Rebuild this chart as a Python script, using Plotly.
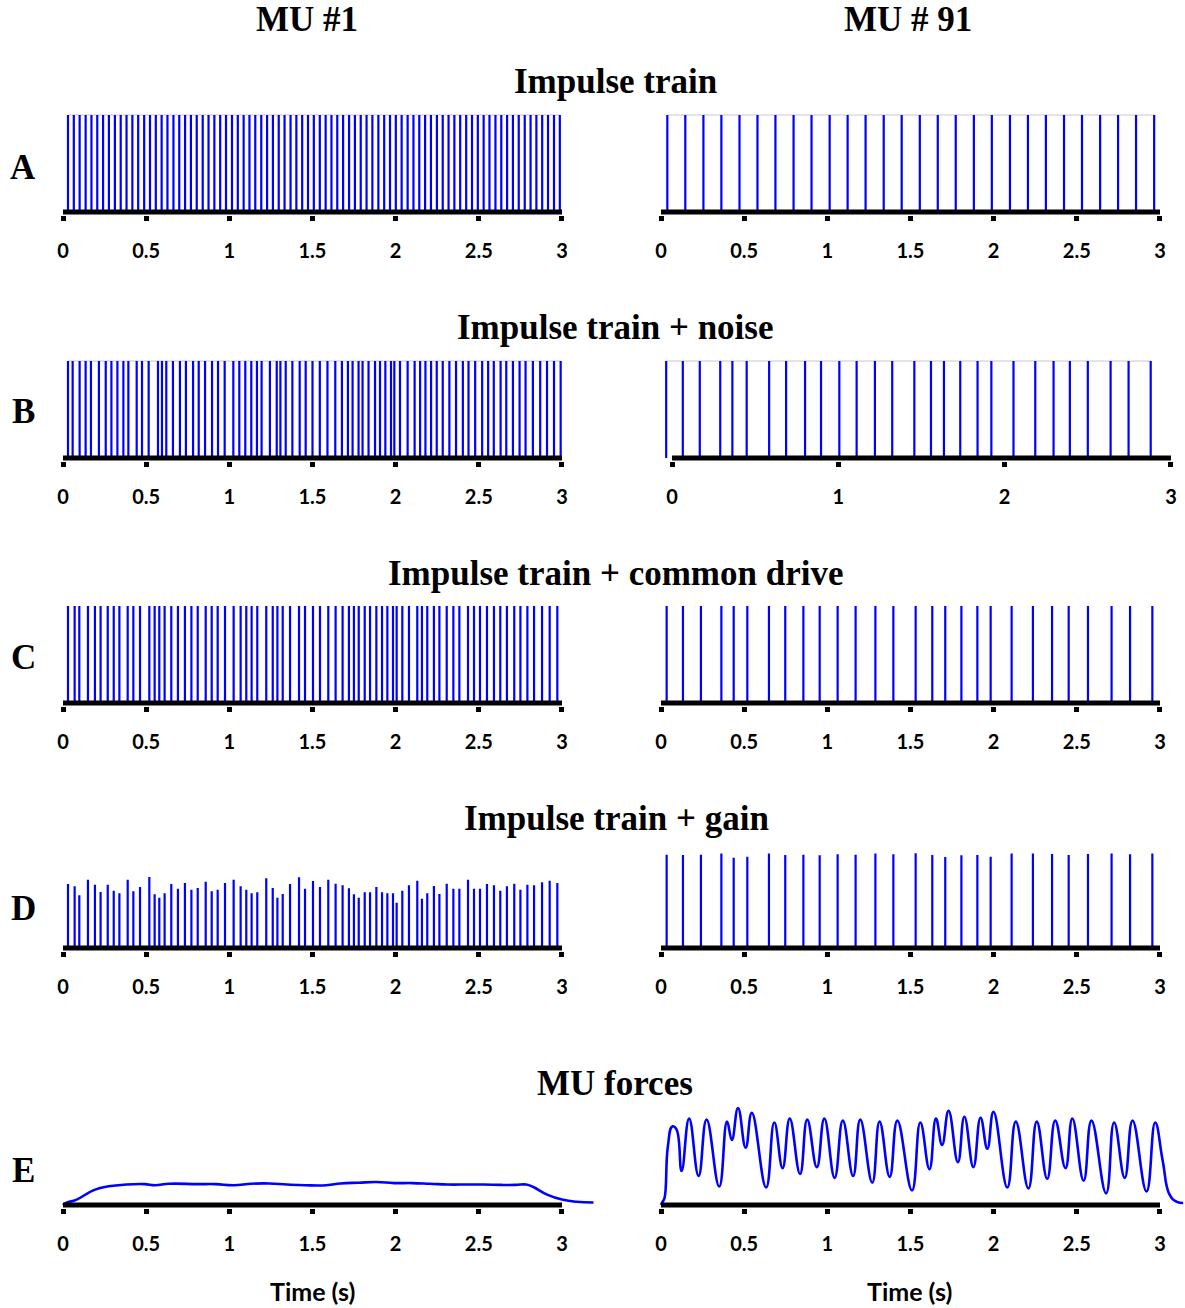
import plotly.graph_objects as go

# ---------------- data ----------------
TICKS_HALF = [0, 0.5, 1, 1.5, 2, 2.5, 3]
TICKS_HALF_TEXT = ["0", "0.5", "1", "1.5", "2", "2.5", "3"]
TICKS_ONE = [0, 1, 2, 3]
TICKS_ONE_TEXT = ["0", "1", "2", "3"]

# Row A: regular impulse trains
MU1_A_TIMES = [0.030, 0.065, 0.100, 0.136, 0.171, 0.206, 0.241, 0.276, 0.312, 0.347,
               0.382, 0.417, 0.452, 0.488, 0.523, 0.558, 0.593, 0.628, 0.664, 0.699,
               0.734, 0.769, 0.804, 0.840, 0.875, 0.910, 0.945, 0.980, 1.016, 1.051,
               1.086, 1.121, 1.156, 1.192, 1.227, 1.262, 1.297, 1.332, 1.368, 1.403,
               1.438, 1.473, 1.508, 1.544, 1.579, 1.614, 1.649, 1.684, 1.720, 1.755,
               1.790, 1.825, 1.860, 1.896, 1.931, 1.966, 2.001, 2.036, 2.072, 2.107,
               2.142, 2.177, 2.212, 2.248, 2.283, 2.318, 2.353, 2.388, 2.424, 2.459,
               2.494, 2.529, 2.564, 2.600, 2.635, 2.670, 2.705, 2.740, 2.776, 2.811,
               2.846, 2.881, 2.916, 2.952, 2.987]
MU91_A_TIMES = [0.038, 0.146, 0.255, 0.363, 0.472, 0.580, 0.688, 0.797, 0.905, 1.014,
                1.122, 1.230, 1.339, 1.447, 1.556, 1.664, 1.772, 1.881, 1.989, 2.098,
                2.206, 2.314, 2.423, 2.531, 2.640, 2.748, 2.856, 2.965]

# Row B: impulse train + noise
MU1_B_TIMES = [0.030, 0.058, 0.100, 0.136, 0.168, 0.216, 0.257, 0.291, 0.327, 0.363,
               0.393, 0.443, 0.475, 0.515, 0.571, 0.595, 0.621, 0.661, 0.703, 0.739,
               0.782, 0.816, 0.854, 0.896, 0.932, 0.972, 1.024, 1.060, 1.096, 1.132,
               1.166, 1.194, 1.244, 1.285, 1.307, 1.339, 1.379, 1.423, 1.459, 1.500,
               1.544, 1.590, 1.637, 1.677, 1.713, 1.741, 1.777, 1.801, 1.837, 1.876,
               1.906, 1.938, 1.972, 1.992, 2.026, 2.072, 2.114, 2.147, 2.179, 2.213,
               2.247, 2.283, 2.323, 2.363, 2.404, 2.438, 2.478, 2.520, 2.556, 2.590,
               2.631, 2.665, 2.705, 2.745, 2.781, 2.825, 2.869, 2.910, 2.952, 2.992]
MU91_B_TIMES = [-0.035, 0.065, 0.167, 0.290, 0.363, 0.449, 0.584, 0.686, 0.800, 0.896,
                1.006, 1.110, 1.220, 1.324, 1.457, 1.557, 1.635, 1.733, 1.837, 1.920,
                2.053, 2.184, 2.294, 2.392, 2.500, 2.637, 2.745, 2.878]

# Rows C and D: impulse train + common drive (D adds a gain per spike)
MU1_CD_TIMES = [0.030, 0.070, 0.098, 0.150, 0.192, 0.226, 0.269, 0.305, 0.339, 0.389,
                0.423, 0.463, 0.519, 0.551, 0.579, 0.611, 0.651, 0.691, 0.733, 0.772,
                0.810, 0.858, 0.894, 0.930, 0.974, 1.026, 1.068, 1.102, 1.134, 1.168,
                1.222, 1.261, 1.289, 1.321, 1.365, 1.419, 1.455, 1.503, 1.545, 1.595,
                1.639, 1.681, 1.719, 1.749, 1.778, 1.814, 1.846, 1.884, 1.918, 1.950,
                1.984, 2.006, 2.040, 2.080, 2.130, 2.158, 2.190, 2.230, 2.263, 2.307,
                2.347, 2.383, 2.435, 2.471, 2.507, 2.549, 2.591, 2.629, 2.669, 2.713,
                2.750, 2.792, 2.832, 2.880, 2.926, 2.972]
MU1_D_GAIN = [0.660, 0.636, 0.543, 0.704, 0.653, 0.577, 0.653, 0.591, 0.564, 0.704,
              0.584, 0.629, 0.732, 0.553, 0.519, 0.564, 0.660, 0.612, 0.670, 0.601,
              0.619, 0.684, 0.584, 0.601, 0.670, 0.704, 0.636, 0.601, 0.564, 0.574,
              0.718, 0.619, 0.519, 0.557, 0.660, 0.729, 0.612, 0.691, 0.629, 0.704,
              0.663, 0.646, 0.615, 0.553, 0.519, 0.574, 0.574, 0.629, 0.574, 0.564,
              0.564, 0.467, 0.591, 0.646, 0.694, 0.509, 0.564, 0.639, 0.557, 0.663,
              0.612, 0.612, 0.704, 0.612, 0.612, 0.660, 0.646, 0.591, 0.636, 0.663,
              0.601, 0.653, 0.646, 0.677, 0.694, 0.670]
MU91_CD_TIMES = [0.034, 0.132, 0.240, 0.363, 0.437, 0.519, 0.649, 0.747, 0.856, 0.954,
                 1.062, 1.170, 1.289, 1.397, 1.531, 1.631, 1.709, 1.806, 1.902, 1.982,
                 2.108, 2.236, 2.351, 2.451, 2.567, 2.709, 2.820, 2.954]
MU91_D_GAIN = [0.962, 0.959, 0.962, 0.973, 0.931, 0.942, 0.973, 0.959, 0.962, 0.955,
               0.966, 0.962, 0.973, 0.966, 0.976, 0.959, 0.938, 0.955, 0.959, 0.942,
               0.973, 0.973, 0.969, 0.959, 0.969, 0.973, 0.966, 0.973]

# Row E: MU forces
MU1_FORCE_T = [0.000, 0.017, 0.082, 0.189, 0.275, 0.382, 0.489, 0.554, 0.639, 0.811,
               0.918, 1.026, 1.133, 1.240, 1.348, 1.455, 1.584, 1.670, 1.777, 1.884,
               1.991, 2.099, 2.206, 2.313, 2.421, 2.528, 2.635, 2.721, 2.785, 2.828,
               2.914, 3.000, 3.086, 3.189]
MU1_FORCE_V = [0.000, 0.020, 0.056, 0.156, 0.193, 0.211, 0.215, 0.204, 0.219, 0.215,
               0.215, 0.204, 0.219, 0.222, 0.211, 0.204, 0.204, 0.222, 0.230, 0.237,
               0.226, 0.226, 0.219, 0.211, 0.211, 0.211, 0.207, 0.207, 0.211, 0.185,
               0.104, 0.056, 0.033, 0.026]
MU91_FORCE_T = [0.000, 0.010, 0.021, 0.041, 0.068, 0.093, 0.124, 0.169, 0.226, 0.274,
                0.350, 0.397, 0.426, 0.463, 0.509, 0.546, 0.632, 0.681, 0.731, 0.774,
                0.836, 0.879, 0.937, 0.982, 1.044, 1.093, 1.155, 1.198, 1.270, 1.314,
                1.375, 1.421, 1.509, 1.559, 1.614, 1.653, 1.690, 1.729, 1.785, 1.824,
                1.878, 1.921, 1.962, 1.999, 2.082, 2.133, 2.209, 2.259, 2.322, 2.370,
                2.432, 2.473, 2.541, 2.588, 2.676, 2.724, 2.788, 2.835, 2.919, 2.971,
                3.016, 3.057, 3.099, 3.140]
MU91_FORCE_V = [0.00, 0.035, 0.07, 0.60, 0.81, 0.78, 0.35, 0.89, 0.30, 0.88,
                0.19, 0.86, 0.67, 1.00, 0.59, 0.95, 0.18, 0.85, 0.38, 0.89,
                0.32, 0.88, 0.39, 0.89, 0.28, 0.87, 0.30, 0.88, 0.23, 0.86,
                0.29, 0.87, 0.15, 0.85, 0.37, 0.89, 0.62, 0.97, 0.44, 0.91,
                0.39, 0.90, 0.58, 0.96, 0.18, 0.86, 0.17, 0.86, 0.27, 0.87,
                0.38, 0.89, 0.25, 0.87, 0.12, 0.85, 0.28, 0.87, 0.14, 0.85,
                0.46, 0.11, 0.035, 0.02]

# ---------------- layout helpers ----------------
W, H = 1185, 1308
BLUE = "#0000FF"
PPS = 166.33           # pixels per second on every time axis
UNIT = 97.0            # pixels per unit of y
Y_LO, Y_HI = -0.03, 1.03

fig = go.Figure()


def spike_xy(times, amps=None):
    xs, ys = [], []
    for k, t in enumerate(times):
        a = 1.0 if amps is None else amps[k]
        xs += [t, t, None]
        ys += [0, a, None]
    return xs, ys


panels = [
    dict(base=212, x0=63, xr=[-0.05, 3.05], tv=TICKS_HALF, tt=TICKS_HALF_TEXT, kind="spk",
         t=MU1_A_TIMES, a=None, top=True),
    dict(base=212, x0=661, xr=[-0.05, 3.05], tv=TICKS_HALF, tt=TICKS_HALF_TEXT, kind="spk",
         t=MU91_A_TIMES, a=None, top=True),
    dict(base=458, x0=63, xr=[-0.05, 3.05], tv=TICKS_HALF, tt=TICKS_HALF_TEXT, kind="spk",
         t=MU1_B_TIMES, a=None, top=True),
    dict(base=458, x0=672, xr=[-0.06, 3.04], tv=TICKS_ONE, tt=TICKS_ONE_TEXT, kind="spk",
         t=MU91_B_TIMES, a=None, top=True),
    dict(base=703, x0=63, xr=[-0.05, 3.05], tv=TICKS_HALF, tt=TICKS_HALF_TEXT, kind="spk",
         t=MU1_CD_TIMES, a=None, top=False),
    dict(base=703, x0=661, xr=[-0.05, 3.05], tv=TICKS_HALF, tt=TICKS_HALF_TEXT, kind="spk",
         t=MU91_CD_TIMES, a=None, top=False),
    dict(base=948, x0=63, xr=[-0.05, 3.05], tv=TICKS_HALF, tt=TICKS_HALF_TEXT, kind="spk",
         t=MU1_CD_TIMES, a=MU1_D_GAIN, top=False),
    dict(base=948, x0=661, xr=[-0.05, 3.05], tv=TICKS_HALF, tt=TICKS_HALF_TEXT, kind="spk",
         t=MU91_CD_TIMES, a=MU91_D_GAIN, top=False),
    dict(base=1205, x0=63, xr=[-0.05, 3.22], tv=TICKS_HALF, tt=TICKS_HALF_TEXT, kind="force",
         t=MU1_FORCE_T, a=MU1_FORCE_V, top=False),
    dict(base=1205, x0=661, xr=[-0.05, 3.142], tv=TICKS_HALF, tt=TICKS_HALF_TEXT, kind="force",
         t=MU91_FORCE_T, a=MU91_FORCE_V, top=False),
]

shapes = []
for i, p in enumerate(panels, start=1):
    xid = "x" if i == 1 else f"x{i}"
    yid = "y" if i == 1 else f"y{i}"
    xkey = "xaxis" if i == 1 else f"xaxis{i}"
    ykey = "yaxis" if i == 1 else f"yaxis{i}"

    if p["kind"] == "spk":
        if p["top"]:
            fig.add_trace(go.Scatter(
                x=[min(p["t"]), max(p["t"])], y=[1, 1], mode="lines",
                line=dict(color="rgba(185,185,200,0.8)", width=1),
                xaxis=xid, yaxis=yid, showlegend=False, hoverinfo="skip"))
        xs, ys = spike_xy(p["t"], p["a"])
        fig.add_trace(go.Scatter(x=xs, y=ys, mode="lines",
                                 line=dict(color=BLUE, width=2.2),
                                 xaxis=xid, yaxis=yid, showlegend=False,
                                 connectgaps=False))
    else:
        fig.add_trace(go.Scatter(x=p["t"], y=p["a"], mode="lines",
                                 line=dict(color=BLUE, width=2.6, shape="spline",
                                           smoothing=1.3),
                                 xaxis=xid, yaxis=yid, showlegend=False))

    xl = (p["x0"] + p["xr"][0] * PPS) / W
    xh = (p["x0"] + p["xr"][1] * PPS) / W
    y_bottom_px = p["base"] - Y_LO * UNIT
    y_top_px = p["base"] - Y_HI * UNIT
    fig.update_layout({
        xkey: dict(domain=[xl, xh], range=p["xr"], anchor=yid,
                   showline=False, showgrid=False, zeroline=False,
                   ticks="outside", ticklen=5, tickwidth=5, tickcolor="black",
                   tickvals=p["tv"], ticktext=p["tt"], ticklabelstandoff=13,
                   tickfont=dict(family="Lato", size=20, color="black", weight="bold")),
        ykey: dict(domain=[1 - y_bottom_px / H, 1 - y_top_px / H], range=[Y_LO, Y_HI],
                   anchor=xid, visible=False, showgrid=False, zeroline=False),
    })
    shapes.append(dict(type="line", xref=xid, yref=yid, x0=0, x1=3, y0=0, y1=0,
                       line=dict(color="black", width=5), layer="above"))

# ---------------- text ----------------
SERIF = "Liberation Serif"
ann = []


def add_text(txt, px, py, size, family=SERIF):
    ann.append(dict(text=f"<b>{txt}</b>", x=px / W, y=1 - py / H, xref="paper", yref="paper",
                    xanchor="center", yanchor="middle", showarrow=False,
                    font=dict(family=family, size=size, color="black")))


add_text("MU #1", 307, 19, 35)
add_text("MU # 91", 908, 19, 35)
add_text("Impulse train", 615, 82, 35)
add_text("Impulse train + noise", 615, 327, 35)
add_text("Impulse train + common drive", 615, 573, 35)
add_text("Impulse train + gain", 616, 818, 35)
add_text("MU forces", 615, 1083, 35)
for letter, py in [("A", 167), ("B", 411), ("C", 657), ("D", 908), ("E", 1170)]:
    add_text(letter, 23, py, 35)
add_text("Time (s)", 312, 1291, 25, family="Lato")
add_text("Time (s)", 910, 1291, 25, family="Lato")

fig.update_layout(width=W, height=H, margin=dict(l=0, r=0, t=0, b=0),
                  paper_bgcolor="white", plot_bgcolor="white",
                  shapes=shapes, annotations=ann, showlegend=False)

fig.write_html("out.html", config={"displayModeBar": False},
               post_script="document.body.style.margin='0';document.body.style.padding='0';")
